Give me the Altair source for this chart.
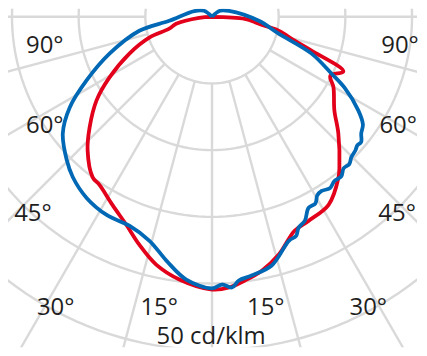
import altair as alt
import numpy as np
import pandas as pd

# ---- luminous intensity curves (angle from nadir in degrees, value in cd/klm) ----
red_angle = [-180, -85.6, -79, -74.4, -71.6, -66, -59.4, -54.1, -47.9, -43, -36.7, -33.8,
             -27.9, -22.4, -17.7, -12.7, -7.1, 0, 3.6, 7.1, 11.1, 15.7, 21.1, 25.3, 31.8,
             38.1, 40.3, 47.3, 52.6, 59.8, 63.6, 67.4, 71.2, 73.9, 78.2, 81.5, 86.5, 180]
red_cd = [0, 9.7, 27.4, 33.3, 49.6, 67.8, 89.3, 106.9, 123.7, 136.8, 149.9, 151.7,
          159.6, 168.7, 179.4, 190.5, 198.5, 204.5, 203.4, 199.3, 194, 185.2, 172, 169.3, 165.9,
          153.6, 147.7, 128.9, 115.5, 105.4, 99.1, 106.7, 78.8, 64.5, 51, 35.5, 24.7, 0]

blue_angle = [-180, -127, -108, -84.7, -79.1, -70.2, -63.1, -57.5, -52, -45.4, -41, -34.7,
              -28, -21.6, -15.6, -10.6, -5.6, 0, 2.1, 4.2, 5.8, 8.7, 13.5, 19, 21, 22.3,
              24.5, 26.8, 29, 30.5, 32.2, 34.5, 36.7, 39, 41, 43, 44.8, 47, 48.5, 50, 52,
              54.5, 57.4, 61.9, 64.6, 69.7, 75.8, 85.1, 109, 127, 180]
blue_cd = [0, 7.5, 14, 32.2, 55.5, 81.7, 105.5, 126.5, 142, 153, 159.2, 165.2,
           168.3, 168.5, 174.4, 186, 198, 203.7, 200.9, 203.5, 198.8, 196.3, 191.8, 177.5, 176, 171,
           168, 160.5, 160, 155.5, 154.3, 156, 153.6, 154, 150.5, 151, 148.3, 147, 145.5, 146, 142,
           139, 130.2, 112.5, 99.1, 79.6, 51.6, 35.2, 13.5, 7.5, 0]

# ---- grid ----
ring_cd = [50, 100, 150, 200, 250]
spoke_deg = [-90, -75, -60, -45, -30, -15, 0, 15, 30, 45, 60, 75, 90]

# ---- labels ----
label_text = ["90°", "90°", "60°", "60°", "45°", "45°", "30°", "30°", "15°", "15°", "50 cd/klm"]
label_x = [-125.4, 141.0, -125.4, 139.6, -134.3, 138.8, -117.2, 117.2, -39.6, 40.3, -0.7]
label_y = [-21.6, -21.6, -82.1, -82.1, -147.8, -147.8, -218.7, -218.7, -218.7, -218.7, -240.3]


def curve_df(ang, val, name):
    a = np.radians(np.array(ang, dtype=float))
    v = np.array(val, dtype=float)
    return pd.DataFrame({"x": v * np.sin(a), "y": -v * np.cos(a),
                         "o": np.arange(len(v)), "s": name})


red_df = curve_df(red_angle, red_cd, "red")
blue_df = curve_df(blue_angle, blue_cd, "blue")

rows = []
for r in ring_cd:
    for i, t in enumerate(np.arange(0, 361, 2)):
        rr = np.radians(t)
        rows.append({"x": r * np.sin(rr), "y": -r * np.cos(rr), "o": i, "ring": r})
ring_df = pd.DataFrame(rows)

sp = np.radians(np.array(spoke_deg, dtype=float))
spoke_df = pd.DataFrame({"x": 50 * np.sin(sp), "y": -50 * np.cos(sp),
                         "x2": 400 * np.sin(sp), "y2": -400 * np.cos(sp)})

label_df = pd.DataFrame({"t": label_text, "x": label_x, "y": label_y})

xs = alt.Scale(domain=[-152.99, 153.73], nice=False, zero=False)
ys = alt.Scale(domain=[-247.76, 5.97], nice=False, zero=False)

GRID = "#d9d9d9"

rings = alt.Chart(ring_df).mark_line(color=GRID, strokeWidth=2.4, clip=True).encode(
    x=alt.X("x:Q", scale=xs, axis=None),
    y=alt.Y("y:Q", scale=ys, axis=None),
    detail="ring:N",
    order="o:Q",
)

spokes = alt.Chart(spoke_df).mark_rule(color=GRID, strokeWidth=2.4, clip=True).encode(
    x=alt.X("x:Q", scale=xs, axis=None),
    y=alt.Y("y:Q", scale=ys, axis=None),
    x2="x2:Q",
    y2="y2:Q",
)

red = alt.Chart(red_df).mark_line(color="#e2001a", strokeWidth=3.8, clip=True,
                                  interpolate="catmull-rom").encode(
    x=alt.X("x:Q", scale=xs, axis=None),
    y=alt.Y("y:Q", scale=ys, axis=None),
    order="o:Q",
)

blue = alt.Chart(blue_df).mark_line(color="#0068b4", strokeWidth=3.8, clip=True,
                                    interpolate="catmull-rom").encode(
    x=alt.X("x:Q", scale=xs, axis=None),
    y=alt.Y("y:Q", scale=ys, axis=None),
    order="o:Q",
)

labels = alt.Chart(label_df).mark_text(font="Open Sans", fontSize=24, color="#1e1e1e",
                                       align="center", baseline="middle").encode(
    x=alt.X("x:Q", scale=xs, axis=None),
    y=alt.Y("y:Q", scale=ys, axis=None),
    text="t:N",
)

chart = alt.layer(rings, spokes, red, blue, labels).properties(
    width=411, height=340, padding=0
).configure_view(stroke=None)

chart.save("out.html", embed_options={"renderer": "svg", "actions": False})
